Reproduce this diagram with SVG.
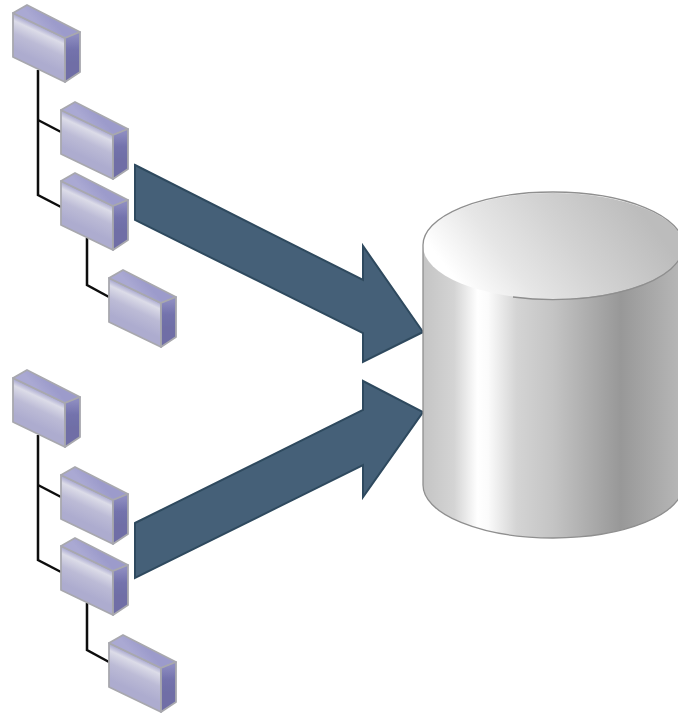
<svg xmlns="http://www.w3.org/2000/svg" xmlns:xlink="http://www.w3.org/1999/xlink" width="678" height="714" viewBox="0 0 678 714">
<style>
.face{stroke:#a8a8ae;stroke-width:1.8;stroke-linejoin:round}
.wire{fill:none;stroke:#111;stroke-width:2.5;stroke-linejoin:miter}
.arrow{fill:#456178;stroke:#2f4a5e;stroke-width:2;stroke-linejoin:miter}
.edge{fill:none;stroke:#8f8f8f;stroke-width:1.3}
</style>
<defs>
<filter id="soft" x="-5%" y="-5%" width="110%" height="110%"><feGaussianBlur stdDeviation="0.6"/></filter>
<linearGradient id="front" gradientUnits="userSpaceOnUse" x1="39" y1="25" x2="25" y2="55">
<stop offset="0" stop-color="#a3a2cd"/><stop offset="0.2" stop-color="#dcdce8"/><stop offset="0.55" stop-color="#bcbbd6"/><stop offset="1" stop-color="#adaccf"/>
</linearGradient>
<linearGradient id="top" gradientUnits="userSpaceOnUse" x1="50" y1="18" x2="40" y2="27">
<stop offset="0" stop-color="#9c9bcb"/><stop offset="1" stop-color="#aaa9d3"/>
</linearGradient>
<linearGradient id="side" gradientUnits="userSpaceOnUse" x1="72" y1="36" x2="72" y2="62">
<stop offset="0" stop-color="#8d8cc0"/><stop offset="0.5" stop-color="#7473ad"/><stop offset="1" stop-color="#6f6ea6"/>
</linearGradient>
<linearGradient id="body" gradientUnits="userSpaceOnUse" x1="423" y1="0" x2="683" y2="0">
<stop offset="0" stop-color="#c4c4c4"/><stop offset="0.12" stop-color="#d4d4d4"/><stop offset="0.21" stop-color="#ffffff"/><stop offset="0.25" stop-color="#fbfbfb"/><stop offset="0.36" stop-color="#d4d4d4"/><stop offset="0.5" stop-color="#c4c4c4"/><stop offset="0.76" stop-color="#989898"/><stop offset="1" stop-color="#b8b8b8"/>
</linearGradient>
<linearGradient id="lid" gradientUnits="userSpaceOnUse" x1="475" y1="305" x2="625" y2="190">
<stop offset="0" stop-color="#ffffff"/><stop offset="0.28" stop-color="#e6e6e6"/><stop offset="0.6" stop-color="#d2d2d2"/><stop offset="1" stop-color="#bcbcbc"/>
</linearGradient>
<g id="box" filter="url(#soft)">
<path class="face" fill="url(#front)" d="M13 13L65 38V82L13 57Z"/>
<path class="face" fill="url(#top)" d="M13 13L27 5L80 32L65 38Z"/>
<path class="face" fill="url(#side)" d="M65 38L80 32V72L65 82Z"/>
</g>
</defs>
<g id="connectors" filter="url(#soft)">
<path class="wire" d="M38 70V195L61 207"/>
<path class="wire" d="M38 120L61 132"/>
<path class="wire" d="M87 238V285L109 297"/>
<path class="wire" d="M38 435V560L61 572"/>
<path class="wire" d="M38 485L61 497"/>
<path class="wire" d="M87 603V650L109 662"/>
</g>
<g id="node-1"><use xlink:href="#box" href="#box"/></g>
<g id="node-2"><use xlink:href="#box" href="#box" x="48" y="97"/></g>
<g id="node-3"><use xlink:href="#box" href="#box" x="48" y="168"/></g>
<g id="node-4"><use xlink:href="#box" href="#box" x="96" y="265"/></g>
<g id="node-5"><use xlink:href="#box" href="#box" y="365"/></g>
<g id="node-6"><use xlink:href="#box" href="#box" x="48" y="462"/></g>
<g id="node-7"><use xlink:href="#box" href="#box" x="48" y="533"/></g>
<g id="node-8"><use xlink:href="#box" href="#box" x="96" y="630"/></g>
<g id="arrows" filter="url(#soft)">
<path class="arrow" d="M135 165L363 280V246L423 332L363 362V333L135 220Z"/>
<path class="arrow" d="M135 523L363 410V381L423 412L363 497V465L135 578Z"/>
</g>
<g id="cylinder" filter="url(#soft)">
<path fill="url(#body)" d="M423 245V485A130 53 0 0 0 683 485V245Z"/>
<ellipse cx="553" cy="246" rx="130" ry="53" fill="url(#lid)"/>
<path class="edge" d="M423 485V245A130 53 0 0 1 683 245"/>
<path class="edge" d="M423 485A130 53 0 0 0 683 485"/>
<path class="edge" d="M513 297A130 53 0 0 0 683 246"/>
</g>
</svg>
